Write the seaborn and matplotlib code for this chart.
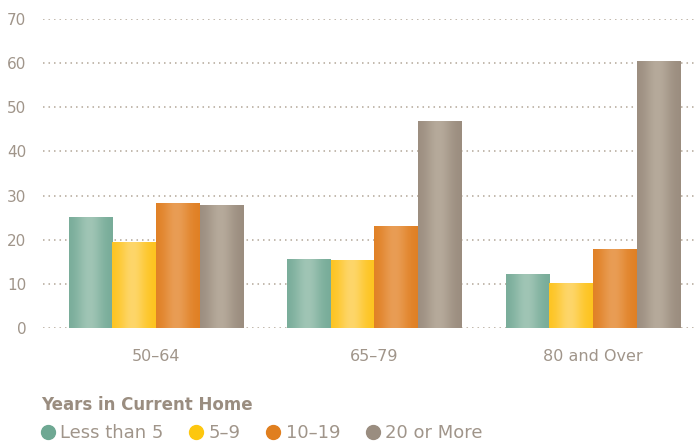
import numpy as np
import pandas as pd
import matplotlib
matplotlib.use("Agg")
import matplotlib.pyplot as plt
from matplotlib.colors import to_rgb
from matplotlib.lines import Line2D
import seaborn as sns

age_groups = ["50–64", "65–79", "80 and Over"]
tenure = ["Less than 5", "5–9", "10–19", "20 or More"]
less_than_5 = [25.1, 15.6, 12.2]
five_to_9 = [19.5, 15.4, 10.2]
ten_to_19 = [28.3, 23.1, 17.9]
twenty_plus = [27.9, 46.9, 60.5]
y_ticks = [0, 10, 20, 30, 40, 50, 60, 70]

legend_title = "Years in Current Home"

edge_colors = ["#76ab98", "#fdc31c", "#e07f22", "#9a8c7e"]
center_colors = ["#a0c5b5", "#fed66a", "#e99d55", "#b6aa9b"]
dot_colors = ["#6ea893", "#fdc70f", "#e07f1f", "#9a8d80"]
text_color = "#a0958a"

rows = []
for t, vals in zip(tenure, [less_than_5, five_to_9, ten_to_19, twenty_plus]):
    for a, v in zip(age_groups, vals):
        rows.append({"age": a, "tenure": t, "value": v})
df = pd.DataFrame(rows)

sns.set_theme(style="white")
plt.rcParams["font.family"] = ["DejaVu Sans"]

fig = plt.figure(figsize=(6.97, 4.45), dpi=100)
ax = fig.add_axes([43 / 697, 117 / 445, (697 - 43) / 697, (426 - 117) / 445])

sns.barplot(data=df, x="age", y="value", hue="tenure", order=age_groups,
            hue_order=tenure, palette=edge_colors, saturation=1, width=0.8,
            gap=0, legend=False, ax=ax, linewidth=0, errorbar=None)

# gradient fill for each bar
grad_x = np.linspace(0, 1, 256)
shape = np.exp(-((grad_x - 0.47) / 0.3) ** 2)
for patch in list(ax.patches):
    fc = patch.get_facecolor()[:3]
    idx = int(np.argmin([np.sum((np.array(fc) - np.array(to_rgb(c))) ** 2) for c in edge_colors]))
    e = np.array(to_rgb(edge_colors[idx]))
    c = np.array(to_rgb(center_colors[idx]))
    img = e[None, :] + (c - e)[None, :] * shape[:, None]
    img = img[None, :, :]
    x0, y0 = patch.get_x(), patch.get_y()
    w, h = patch.get_width(), patch.get_height()
    im = ax.imshow(img, extent=[x0, x0 + w, y0, y0 + h], aspect="auto",
                   zorder=patch.get_zorder() + 0.1, interpolation="bilinear")
    im.set_clip_path(patch)

ax.set_xlim(-0.517, 2.476)
ax.set_ylim(0, 70)
ax.set_yticks(y_ticks)
ax.set_yticklabels([str(v) for v in y_ticks])
ax.set_xlabel("")
ax.set_ylabel("")
for s in ax.spines.values():
    s.set_visible(False)
ax.set_axisbelow(True)
ax.yaxis.grid(True, color="#b3a799", linestyle=(0, (1, 2.6)), linewidth=1.1)
ax.xaxis.grid(False)
ax.tick_params(axis="y", length=0, pad=12, labelsize=11, labelcolor=text_color)
ax.tick_params(axis="x", length=0, pad=15, labelsize=11.5, labelcolor=text_color)
for lbl in ax.get_xticklabels() + ax.get_yticklabels():
    lbl.set_color(text_color)

handles = [Line2D([0], [0], marker="o", linestyle="", markersize=10,
                  markerfacecolor=c, markeredgecolor=c) for c in dot_colors]
leg = fig.legend(handles, tenure, loc="upper left", bbox_to_anchor=(41 / 697, 1 - 396 / 445),
                 ncol=4, frameon=False, handlelength=0.75, handletextpad=0.3,
                 columnspacing=1.45, fontsize=13, title=legend_title,
                 title_fontproperties={"weight": "bold", "size": 12},
                 alignment="left", borderaxespad=0, borderpad=0, labelspacing=0.55)
leg.get_title().set_color("#9a8d80")
for t in leg.get_texts():
    t.set_color(text_color)

fig.savefig("out.png", dpi=100)
